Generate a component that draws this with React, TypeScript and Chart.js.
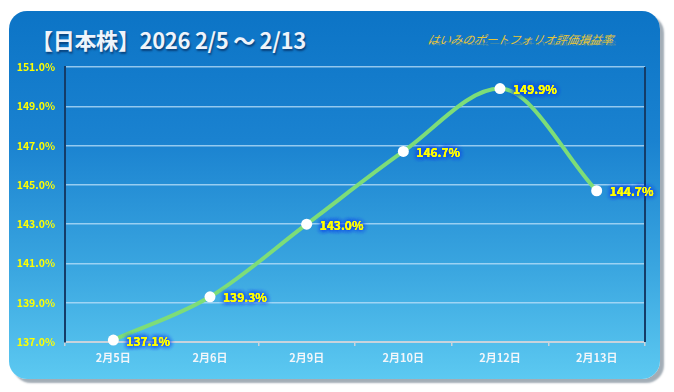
import React, { useEffect, useRef } from "react";
import { Chart, registerables } from "chart.js";

Chart.register(...registerables);

const categories = ["2月5日", "2月6日", "2月9日", "2月10日", "2月12日", "2月13日"];
const values = [137.1, 139.3, 143.0, 146.7, 149.9, 144.7];
const yMin = 137;
const yMax = 151;
const yStep = 2;
const titleText = "【日本株】2026 2/5 ～ 2/13";
const subtitleText = "はいみのポートフォリオ評価損益率";

const FONT = "'Noto Sans CJK JP', 'Noto Sans', sans-serif";

const labelPlugin = {
  id: "valueLabels",
  beforeDatasetsDraw(chart: any) {
    const { ctx, chartArea } = chart;
    ctx.save();
    ctx.strokeStyle = "#143c68";
    ctx.lineWidth = 2;
    ctx.beginPath();
    ctx.moveTo(chartArea.right, chartArea.top);
    ctx.lineTo(chartArea.right, chartArea.bottom);
    ctx.stroke();
    ctx.restore();
  },
  afterDatasetsDraw(chart: any) {
    const ctx = chart.ctx;
    const meta = chart.getDatasetMeta(0);
    ctx.save();
    ctx.font = `bold 12px ${FONT}`;
    ctx.textAlign = "left";
    ctx.textBaseline = "middle";
    meta.data.forEach((pt: any, i: number) => {
      const txt = values[i].toFixed(1) + "%";
      const x = pt.x + 13;
      const y = pt.y + 1;
      ctx.shadowColor = "rgba(20,70,230,1)";
      ctx.shadowBlur = 5;
      ctx.fillStyle = "#ffff00";
      for (let k = 0; k < 4; k++) ctx.fillText(txt, x, y);
      ctx.shadowBlur = 0;
      ctx.fillText(txt, x, y);
    });
    ctx.restore();
  },
};

export default function App() {
  const ref = useRef<HTMLCanvasElement>(null);
  useEffect(() => {
    if (!ref.current) return;
    const chart = new Chart(ref.current, {
      type: "line",
      data: {
        labels: categories,
        datasets: [
          {
            data: values,
            borderColor: "#7ddd78",
            borderWidth: 4,
            cubicInterpolationMode: "monotone",
            pointRadius: 5.5,
            pointBackgroundColor: "#ffffff",
            pointBorderColor: "#ffffff",
            pointBorderWidth: 0,
            fill: false,
            clip: false,
          },
        ],
      },
      options: {
        animation: false,
        responsive: false,
        maintainAspectRatio: false,
        layout: { padding: { left: 0, right: 29, top: 67, bottom: 22 } },
        plugins: { legend: { display: false }, tooltip: { enabled: false }, title: { display: false } },
        scales: {
          x: {
            type: "category",
            offset: true,
            afterFit(scale: any) {
              scale.height = 28;
            },
            grid: {
              offset: true,
              drawOnChartArea: false,
              drawTicks: true,
              tickLength: 4,
              color: "#c9d3dc",
              lineWidth: 1.5,
            },
            border: { color: "#c9d3dc", width: 2 },
            ticks: {
              color: "#f2f6fa",
              font: { family: FONT, size: 11, weight: "bold" },
              padding: 5,
              maxRotation: 0,
            },
          },
          y: {
            min: yMin,
            max: yMax,
            afterFit(scale: any) {
              scale.width = 65;
            },
            grid: {
              color: "rgba(190,225,250,0.75)",
              lineWidth: 1.5,
              drawTicks: false,
            },
            border: { color: "#143c68", width: 2 },
            ticks: {
              stepSize: yStep,
              color: "#ffff00",
              padding: 10,
              font: { family: FONT, size: 10.5, weight: "bold" },
              callback: (v: any) => Number(v).toFixed(1) + "%",
            },
          },
        },
      },
      plugins: [labelPlugin],
    } as any);
    return () => chart.destroy();
  }, []);

  return (
    <div style={{ position: "absolute", left: 0, top: 0, width: 674, height: 392, background: "#ffffff", overflow: "hidden" }}>
      <div
        style={{
          position: "absolute",
          left: 9,
          top: 11,
          width: 651,
          height: 368,
          borderRadius: 18,
          background: "linear-gradient(180deg, #0c74c6 0%, #1a82d0 35%, #3aa6e0 70%, #5cc9f1 100%)",
          boxShadow: "4px 4px 2px #a3adb6",
        }}
      />
      <div
        style={{
          position: "absolute",
          left: 31,
          top: 24,
          fontFamily: FONT,
          fontWeight: "bold",
          fontSize: 22,
          lineHeight: "30px",
          color: "#eef4fb",
          textShadow: "1px 2px 2px rgba(0,20,60,0.55)",
          whiteSpace: "nowrap",
          letterSpacing: -0.3,
        }}
      >
        {titleText}
      </div>
      <div
        style={{
          position: "absolute",
          left: 428,
          top: 31,
          fontFamily: FONT,
          fontStyle: "italic",
          fontSize: 11.6,
          lineHeight: "16px",
          color: "#e7c53a",
          whiteSpace: "nowrap",
          transform: "skewX(-12deg)",
        }}
      >
        {subtitleText}
      </div>
      <div
        style={{
          position: "absolute",
          left: 428,
          top: 47,
          fontFamily: FONT,
          fontStyle: "italic",
          fontSize: 11.6,
          lineHeight: "16px",
          color: "#e7c53a",
          whiteSpace: "nowrap",
          transform: "scaleY(-0.5) skewX(12deg)",
          transformOrigin: "top",
          opacity: 0.35,
        }}
      >
        {subtitleText}
      </div>
      <canvas ref={ref} width={674} height={392} style={{ position: "absolute", left: 0, top: 0 }} />
    </div>
  );
}
